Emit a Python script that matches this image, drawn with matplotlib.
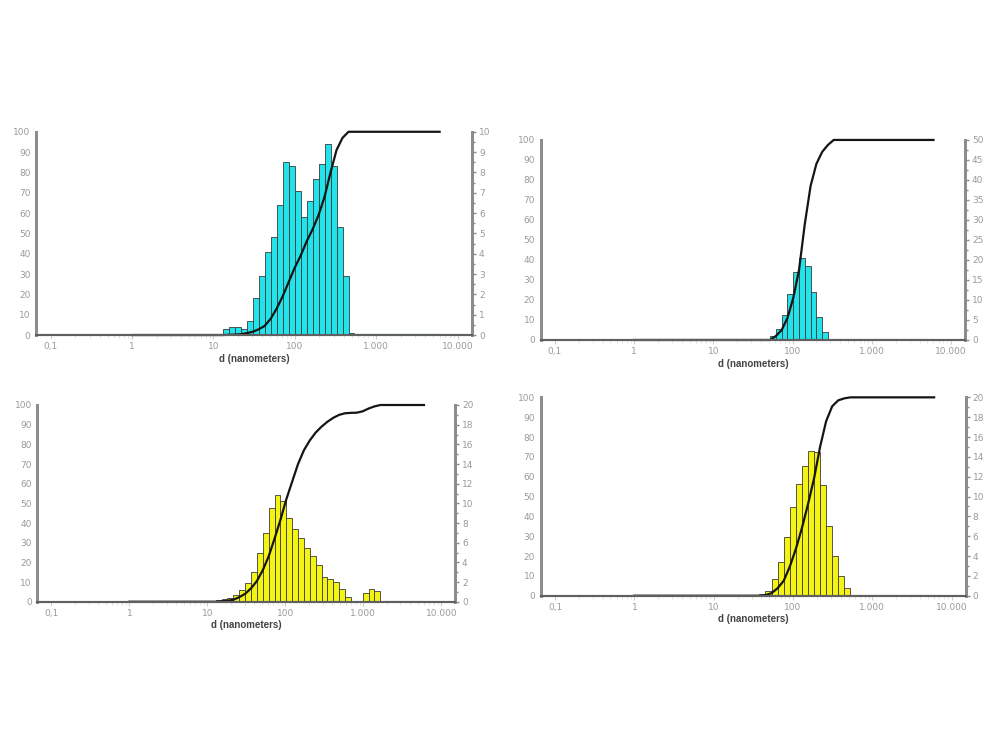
import numpy as np
import matplotlib.pyplot as plt
from matplotlib.ticker import FixedLocator, MultipleLocator, NullFormatter

# x axis (diameter, nm), log scale, labels in european format
dec_ticks = [0.1, 1, 10, 100, 1000, 10000]
dec_labels = ['0,1', '1', '10', '100', '1.000', '10.000']
curve_start, curve_end = 1.0, 6000.0   # black curve runs from 1 nm to ~6000 nm

# panel 1 (top left) - bars on right axis 0-10
p1_lo, p1_hi = 13.0, 540.0
p1_freq = [0.3, 0.4, 0.4, 0.3, 0.7, 1.8, 2.9, 4.1, 4.8, 6.4, 8.5, 8.3, 7.1,
           5.8, 6.6, 7.7, 8.4, 9.4, 8.3, 5.3, 2.9, 0.1]
p1_cum = [0, 0.1, 0.2, 0.4, 0.9, 1.6, 2.8, 4.5, 8, 13, 19, 26, 33, 39, 46,
          52, 59, 68, 80, 91, 97, 100, 100]

# panel 2 (top right) - right axis 0-50
p2_lo, p2_hi = 52.0, 330.0
p2_freq = [1.0, 2.75, 6.25, 11.5, 17.0, 20.5, 18.5, 12.0, 5.75, 2.0, 0.25]
p2_cum = [0, 2, 5, 11, 21, 35, 58, 77, 88, 94, 97.5, 100]

# panel 3 (bottom left) - right axis 0-20
p3_lo, p3_hi = 12.8, 1970.0
p3_freq = [0.16, 0.24, 0.34, 0.68, 1.18, 1.86, 3.06, 4.92, 7.0, 9.5, 10.84,
           10.28, 8.48, 7.36, 6.44, 5.42, 4.64, 3.72, 2.54, 2.28, 2.04, 1.26,
           0.5, 0, 0, 0.84, 1.28, 1.08, 0.1]
p3_cum = [0, 0.2, 0.5, 1, 2.3, 4, 6.8, 10.5, 16, 23, 32, 41.5, 52, 61, 70, 77,
          82, 86, 89, 91.5, 93.5, 95, 95.8, 96, 96.1, 96.8, 98.2, 99.3, 100, 100]

# panel 4 (bottom right) - right axis 0-20
p4_lo, p4_hi = 31.6, 630.0
p4_freq = [0.06, 0.2, 0.44, 1.7, 3.4, 5.9, 8.9, 11.3, 13.1, 14.6, 14.5, 11.2,
           7.0, 4.0, 2.0, 0.74, 0.06]
p4_cum = [0, 0, 0.3, 1.3, 3.8, 7.5, 14.6, 23.5, 34, 46, 59, 75, 88, 95.5,
          98.5, 99.5, 100, 100]

panels = [
    # rect, lo, hi, freq, cum, right max, right step, bar colour, baseline colour
    ([0.036, 0.5533, 0.436, 0.271], p1_lo, p1_hi, p1_freq, p1_cum, 10, 1, '#22e3ea', '#5fe0e6'),
    ([0.5407, 0.5467, 0.4243, 0.2667], p2_lo, p2_hi, p2_freq, p2_cum, 50, 5, '#22e3ea', '#8fdde2'),
    ([0.0373, 0.1977, 0.4177, 0.2623], p3_lo, p3_hi, p3_freq, p3_cum, 20, 2, '#f4f414', '#e6e6a0'),
    ([0.5407, 0.2057, 0.425, 0.2645], p4_lo, p4_hi, p4_freq, p4_cum, 20, 2, '#f4f414', '#c9d27a'),
]

fig = plt.figure(figsize=(10, 7.5), dpi=100)
tick_col = '#9a9a9a'

for rect, lo, hi, freq, cum, rmax, rstep, bcol, basecol in panels:
    ax = fig.add_axes(rect)
    ax2 = ax.twinx()
    ax.set_zorder(ax2.get_zorder() + 1)
    ax.patch.set_visible(False)

    edges = np.geomspace(lo, hi, len(freq) + 1)
    ax2.bar(edges[:-1], freq, width=np.diff(edges), align='edge',
            color=bcol, edgecolor='#3a3a3a', linewidth=0.6)
    ax2.plot([hi, curve_end], [0, 0], color=basecol, lw=1.6)

    # cumulative curve (left axis, %)
    xs = np.concatenate([[curve_start], edges, [curve_end]])
    ys = np.concatenate([[0], cum, [100]])
    ax.plot(xs, ys, color='#151515', lw=1.6, clip_on=False)

    for a in (ax, ax2):
        a.set_xscale('log')
        a.set_xlim(0.066, 15000)
    ax.set_ylim(0, 100)
    ax2.set_ylim(0, rmax)

    ax.xaxis.set_major_locator(FixedLocator(dec_ticks))
    ax.set_xticklabels(dec_labels)
    ax.xaxis.set_minor_locator(FixedLocator(
        [m * d for d in dec_ticks[:-1] for m in range(2, 10)]))
    ax.xaxis.set_minor_formatter(NullFormatter())
    ax.tick_params(axis='x', which='major', length=3, color='#cccccc',
                   labelsize=6.5, labelcolor=tick_col, pad=2)
    ax.tick_params(axis='x', which='minor', length=2, color='#dddddd')

    ax.yaxis.set_major_locator(MultipleLocator(10))
    ax.tick_params(axis='y', length=0, labelsize=6.5, labelcolor=tick_col, pad=4)
    ax2.yaxis.set_major_locator(MultipleLocator(rstep))
    ax2.yaxis.set_minor_locator(MultipleLocator(rstep / 2))
    ax2.tick_params(axis='y', which='major', length=3, width=1, color='#8c8c8c',
                    labelsize=6.5, labelcolor=tick_col, pad=2)
    ax2.tick_params(axis='y', which='minor', length=2, width=1, color='#8c8c8c')

    for a in (ax, ax2):
        a.spines['top'].set_visible(False)
        a.spines['left'].set_color('#8c8c8c')
        a.spines['right'].set_color('#8c8c8c')
        a.spines['left'].set_linewidth(2)
        a.spines['right'].set_linewidth(2)
        a.spines['bottom'].set_color('#606060')
        a.spines['bottom'].set_linewidth(1.5)

    ax.set_xlabel('d (nanometers)', fontsize=7, fontweight='bold',
                  family='Liberation Sans', color='#444444', labelpad=2)

fig.savefig('out.png', dpi=100, facecolor='white')
